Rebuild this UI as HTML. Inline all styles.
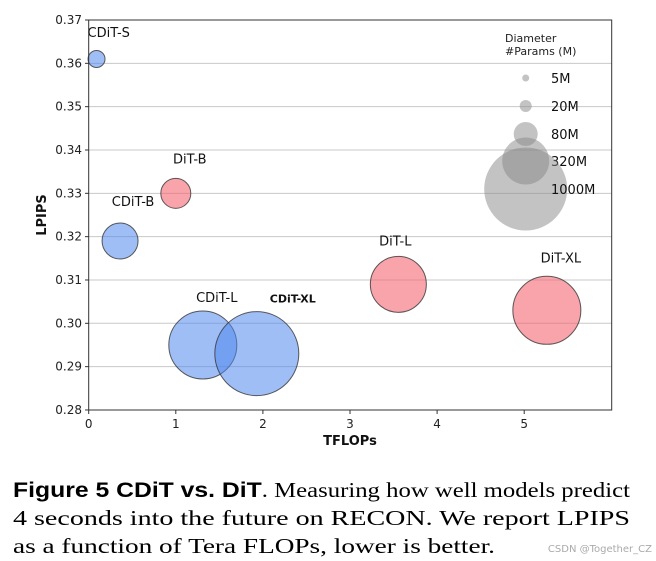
<!DOCTYPE html>
<html><head><meta charset="utf-8"><style>
body{margin:0;background:#fff;width:656px;height:561px;overflow:hidden}
svg{display:block}
</style></head><body>
<svg id="chart" width="656" height="561" xmlns="http://www.w3.org/2000/svg" font-family="DejaVu Sans, Liberation Sans, sans-serif">
<g id="grid"></g>
<g id="ticks"></g>
<g id="bubbles"></g>
<g id="legend">
<text x="505" y="42" font-size="11" fill="#222">Diameter</text>
<text x="505" y="55" font-size="11" fill="#222">#Params (M)</text>
</g>
<rect x="88.7" y="20" width="523" height="390" fill="none" stroke="#333" stroke-width="1"/>
<text x="350" y="445" font-size="13" font-weight="bold" text-anchor="middle" fill="#111">TFLOPs</text>
<text transform="translate(46,215) rotate(-90)" font-size="13" font-weight="bold" text-anchor="middle" fill="#111">LPIPS</text>
<g>
<text x="13" y="497" font-size="21" textLength="617" lengthAdjust="spacingAndGlyphs"><tspan font-family="Liberation Sans, sans-serif" font-weight="bold">Figure 5  CDiT vs. DiT</tspan><tspan font-family="Liberation Serif, serif">. Measuring how well models predict</tspan></text>
<text x="13" y="525" font-size="21" font-family="Liberation Serif, serif" textLength="617" lengthAdjust="spacingAndGlyphs">4 seconds into the future on RECON. We report LPIPS</text>
<text x="13" y="553" font-size="21" font-family="Liberation Serif, serif" textLength="482" lengthAdjust="spacingAndGlyphs">as a function of Tera FLOPs, lower is better.</text>
</g>
<text x="652" y="552" font-size="10" text-anchor="end" fill="#aaa">CSDN @Together_CZ</text>
</svg>
<script>
const models = ["CDiT-S","CDiT-B","DiT-B","CDiT-L","CDiT-XL","DiT-L","DiT-XL"];
const tflops = [0.09,0.36,1.0,1.31,1.93,3.555,5.26];
const lpips = [0.361,0.319,0.330,0.295,0.293,0.309,0.303];
const radii = [8.5,18,15,34,42,28,34];
const family = ["c","c","d","c","c","d","d"];
const xTicks = [0,1,2,3,4,5];
const yTicks = [0.28,0.29,0.30,0.31,0.32,0.33,0.34,0.35,0.36,0.37];
const legendLabels = ["5M","20M","80M","320M","1000M"];
const legendRadii = [3.5,6,12,23.5,41.5];
const NS="http://www.w3.org/2000/svg";
const X=v=>88.7+v*87.1;
const Y=v=>20+(0.37-v)/0.01*43.33;
function mk(t,a,p){const e=document.createElementNS(NS,t);for(const k in a)e.setAttribute(k,a[k]);p.appendChild(e);return e;}
const grid=document.getElementById('grid'),ticks=document.getElementById('ticks'),bub=document.getElementById('bubbles'),leg=document.getElementById('legend');
yTicks.forEach(v=>{
 const y=Y(v);
 if(v>0.28&&v<0.37){const g=mk('line',{x1:88.7,x2:611.7,y1:y,y2:y,stroke:'#c8c8c8','stroke-width':1},grid);
 
 }
 mk('line',{x1:85,x2:88.7,y1:y,y2:y,stroke:'#333'},ticks);
 const t=mk('text',{x:82,y:y+4,'font-size':12,'text-anchor':'end',fill:'#222'},ticks);t.textContent=v.toFixed(2);
 
 
});
xTicks.forEach(v=>{
 const x=X(v);
 mk('line',{x1:x,x2:x,y1:410,y2:414,stroke:'#333'},ticks);
 const t=mk('text',{x:x,y:428,'font-size':12,'text-anchor':'middle',fill:'#222'},ticks);t.textContent=v;
 
 
});
const labelOff={"CDiT-S":[0,-22,'start',-9],"CDiT-B":[13,-35],"DiT-B":[14,-30],"CDiT-L":[14,-43],"CDiT-XL":[36,-51],"DiT-L":[-3,-39],"DiT-XL":[14,-48]};
models.forEach((m,i)=>{
 const cx=X(tflops[i]),cy=Y(lpips[i]);
 const c=mk('circle',{cx:cx,cy:cy,r:radii[i],fill:family[i]=='c'?'#4f86ee':'#f5606f','fill-opacity':family[i]=='c'?0.54:0.58,stroke:'#333','stroke-opacity':0.8,'stroke-width':1},bub);
 
 
 const o=labelOff[m];
 const t=mk('text',{x:o[3]!==undefined?cx+o[3]:cx+o[0],y:cy+o[1],'font-size':m=='CDiT-XL'?11:13,'text-anchor':o[2]||'middle',fill:'#111'},bub);
 if(m=='CDiT-XL')t.setAttribute('font-weight','bold');
 t.textContent=m;
 
 
});
const ly=[78,106,134,161,189];
legendLabels.forEach((l,i)=>{
 const c=mk('circle',{cx:525.7,cy:ly[i],r:legendRadii[i],fill:'#888','fill-opacity':0.5},leg);
 
 
 const t=mk('text',{x:551,y:ly[i]+5,'font-size':13,fill:'#111'},leg);t.textContent=l;
 
 
});
</script>
</body></html>
